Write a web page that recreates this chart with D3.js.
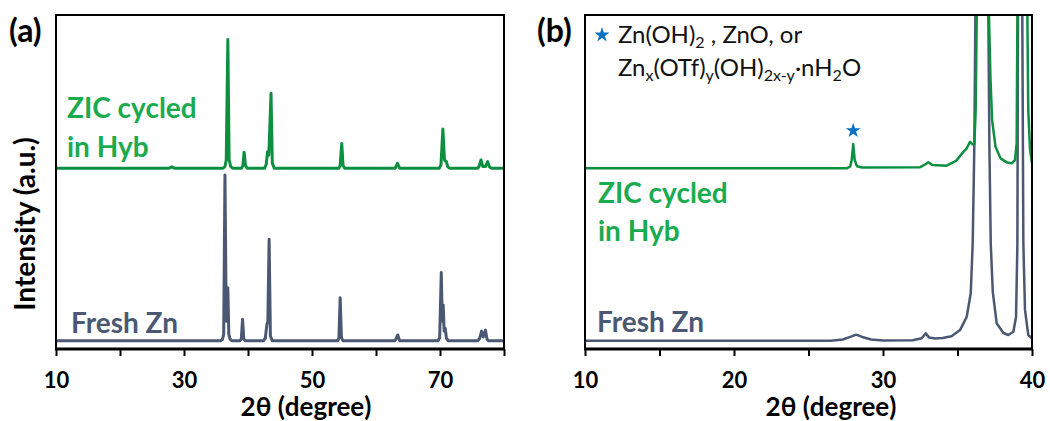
<!DOCTYPE html>
<html>
<head>
<meta charset="utf-8">
<script src="https://cdn.jsdelivr.net/npm/d3@7"></script>
<style>
    body { margin: 0; background: #fff; }
    svg { display: block; font-family: Lato, "Open Sans", sans-serif; }
</style>
</head>
<body>
<svg id="chart" width="1050" height="421"></svg>
<script>
//DATA-----------------------------------------------------------------------------------
//panel (a) : 10-80 degree, [2theta, intensity a.u.]
const freshA = [
    [10, 0], [35.7, 0], [36.0, 4], [36.2, 20], [36.4, 509], [36.6, 60], [36.75, 70], [36.85, 163], [37.0, 20], [37.2, 5], [37.5, 0],
    [38.7, 0], [38.95, 5], [39.15, 66], [39.35, 5], [39.6, 0],
    [42.4, 0], [42.7, 8], [42.95, 50], [43.1, 60], [43.3, 312], [43.5, 15], [43.8, 0],
    [54.0, 0], [54.2, 8], [54.4, 132], [54.5, 70], [54.6, 10], [54.85, 0],
    [62.9, 0], [63.1, 5], [63.4, 18], [63.7, 0],
    [69.7, 0], [69.95, 10], [70.2, 210], [70.35, 60], [70.5, 110], [70.65, 30], [70.83, 38], [71.0, 8], [71.3, 0],
    [75.9, 0], [76.2, 8], [76.5, 30], [76.75, 12], [77.1, 33], [77.35, 5], [77.6, 0], [80, 0]
];
const cycledA = [
    [10, 0], [27.7, 0], [28.1, 4], [28.5, 0],
    [36.1, 0], [36.4, 5], [36.6, 25], [36.85, 395], [37.05, 25], [37.3, 5], [37.6, 0],
    [39.0, 0], [39.2, 8], [39.4, 49], [39.6, 8], [39.85, 0],
    [42.6, 0], [42.85, 12], [43.05, 50], [43.25, 40], [43.6, 230], [43.8, 15], [44.1, 0],
    [54.2, 0], [54.4, 8], [54.65, 76], [54.85, 8], [55.1, 0],
    [63.0, 0], [63.35, 15], [63.7, 0],
    [69.9, 0], [70.15, 10], [70.45, 120], [70.7, 25], [71.0, 20], [71.2, 5], [71.5, 0],
    [75.9, 0], [76.1, 5], [76.4, 25], [76.7, 5], [77.1, 5], [77.45, 20], [77.7, 5], [78.0, 0], [80, 0]
];
const offsetA = 530; //vertical offset of the cycled pattern

//panel (b) : zoom 10-40 degree
const freshB = [
    [10, 0], [26.5, 0], [27.3, 0.4], [27.8, 1.2], [28.2, 1.9], [28.6, 1.2], [29.2, 0.4], [30.0, 0.1],
    [32.0, 0.2], [32.6, 0.8], [32.87, 2.3], [33.1, 1.0], [33.5, 0.7], [34.0, 0.9], [34.6, 1.4],
    [35.17, 3.3], [35.62, 7.4], [35.89, 14.7], [36.02, 30], [36.13, 60], [36.2, 100], [36.6, 400],
    [37.07, 100], [37.14, 60], [37.23, 30], [37.37, 14.9], [37.63, 5.4], [38.08, 2.4], [38.41, 1.8],
    [38.75, 2.8], [38.93, 7.4], [39.02, 30], [39.06, 100], [39.2, 400], [39.35, 100],
    [39.42, 30], [39.53, 9.5], [39.75, 1.8], [40, 0.8]
];
const cycledB = [
    [10, 0], [27.6, 0], [27.8, 0.5], [27.9, 2.5], [28.0, 7.4], [28.1, 2.5], [28.25, 0.6], [28.6, 0.2],
    [32.5, 0.3], [32.85, 1.2], [33.04, 1.8], [33.3, 1.0], [34.27, 0.75], [34.9, 2.2], [35.39, 5.0],
    [35.62, 6.1], [35.84, 8.1], [36.0, 7.3], [36.13, 7.4], [36.22, 17.8], [36.29, 47], [36.7, 150],
    [37.11, 47], [37.21, 28], [37.32, 14.8], [37.55, 6.6], [37.89, 3.0], [38.33, 1.7], [38.64, 1.5],
    [38.86, 2.5], [38.97, 7.6], [39.02, 47], [39.35, 150], [39.69, 47], [39.75, 17.8], [39.87, 5.6], [40, 1.5]
];
const offsetB = 53;
const starAt = [28.0, 11.5]; //marker above the 28 degree peak (cycled, panel b)

//axes
const ticksA = [10, 20, 30, 40, 50, 60, 70, 80];
const labelsA = [10, 30, 50, 70];
const ticksB = [10, 15, 20, 25, 30, 35, 40];
const labelsB = [10, 20, 30, 40];

//colors
const colFresh = "#4b5873";
const colCycled = "#0d8f40";
const colCycledText = "#1aab4f";
const colStar = "#0a70c4";

//LAYOUT---------------------------------------------------------------------------------
const plotTop = 15, plotBottom = 349;
const svg = d3.select("#chart");

function drawPanel(id, left, right, xDomain, yDomain, ticks, labels, fresh, cycled, offset, lineW) {
    const x = d3.scaleLinear().domain(xDomain).range([left, right]);
    const y = d3.scaleLinear().domain(yDomain).range([plotBottom, plotTop]);

    const g = svg.append("g");

    //clip
    svg.append("defs").append("clipPath").attr("id", "clip" + id)
        .append("rect")
        .attr("x", left).attr("y", plotTop)
        .attr("width", right - left).attr("height", plotBottom - plotTop);

    const line = off => d3.line()
        .x(d => x(d[0]))
        .y(d => y(d[1] + off));

    const plot = g.append("g").attr("clip-path", "url(#clip" + id + ")");
    plot.append("path")
        .datum(fresh)
        .attr("d", line(0))
        .attr("fill", "none")
        .attr("stroke", colFresh)
        .attr("stroke-width", lineW)
        .attr("stroke-linejoin", "round");
    plot.append("path")
        .datum(cycled)
        .attr("d", line(offset))
        .attr("fill", "none")
        .attr("stroke", colCycled)
        .attr("stroke-width", lineW)
        .attr("stroke-linejoin", "round");

    //frame
    g.append("path")
        .attr("d", `M${left},${plotBottom}V${plotTop}H${right}V${plotBottom}`)
        .attr("fill", "none")
        .attr("stroke", "#000")
        .attr("stroke-width", 2);

    //x axis
    const axis = g.append("g")
        .attr("transform", `translate(0,${plotBottom})`)
        .call(d3.axisBottom(x)
            .tickValues(ticks)
            .tickSize(7)
            .tickPadding(16)
            .tickFormat(d => labels.includes(d) ? d : ""));
    axis.select(".domain").remove();
    axis.selectAll(".tick line").attr("stroke", "#000").attr("stroke-width", 2);
    axis.selectAll(".tick text")
        .attr("fill", "#000")
        .style("font-family", "Lato, sans-serif")
        .style("font-weight", "bold")
        .style("font-size", "22px");
    g.append("line")
        .attr("x1", left - 1).attr("x2", right + 1)
        .attr("y1", plotBottom).attr("y2", plotBottom)
        .attr("stroke", "#000")
        .attr("stroke-width", 3);

    return { x, y, g };
}

const pa = drawPanel("A", 56, 504, [10, 80], [-25, 1000], ticksA, labelsA, freshA, cycledA, offsetA, 3);
const pb = drawPanel("B", 585, 1032, [10, 40], [-2.5, 100], ticksB, labelsB, freshB, cycledB, offsetB, 2.5);

//TEXT-----------------------------------------------------------------------------------
function label(x, y, txt, size, color, weight, anchor) {
    return svg.append("text")
        .attr("x", x).attr("y", y)
        .attr("fill", color)
        .attr("font-size", size)
        .attr("font-weight", weight || "bold")
        .attr("text-anchor", anchor || "start")
        .text(txt);
}

label(9, 42, "(a)", 32, "#000");
label(537, 42, "(b)", 32, "#000");

//axis titles
label(306, 416, "2θ (degree)", 26, "#000", "bold", "middle");
label(831, 416, "2θ (degree)", 26, "#000", "bold", "middle");
svg.append("text")
    .attr("transform", "translate(35,224) rotate(-90)")
    .attr("text-anchor", "middle")
    .attr("font-size", 28)
    .attr("font-weight", "bold")
    .attr("fill", "#000")
    .text("Intensity (a.u.)");

//series labels
label(67, 118, "ZIC cycled", 28, colCycledText);
label(67, 157, "in Hyb", 28, colCycledText);
label(71, 333, "Fresh Zn", 28, colFresh);
label(598, 203, "ZIC cycled", 28, colCycledText);
label(598, 241, "in Hyb", 28, colCycledText);
label(597, 332, "Fresh Zn", 28, colFresh);

//star markers
const star = d3.symbol().type(d3.symbolStar).size(70);
svg.append("path")
    .attr("d", star())
    .attr("transform", "translate(602,35)")
    .attr("fill", colStar);
svg.append("path")
    .attr("d", star())
    .attr("transform", `translate(${pb.x(starAt[0])},${pb.y(starAt[1] + offsetB)})`)
    .attr("fill", colStar);

//legend formulas with subscripts
const leg1 = svg.append("text").attr("x", 618).attr("y", 43).attr("font-size", 24).attr("fill", "#111");
leg1.append("tspan").text("Zn(OH)");
leg1.append("tspan").attr("font-size", 16).attr("dy", 5).text("2");
leg1.append("tspan").attr("dy", -5).text(" , ZnO, or");

const leg2 = svg.append("text").attr("x", 618).attr("y", 76).attr("font-size", 24).attr("fill", "#111");
leg2.append("tspan").text("Zn");
leg2.append("tspan").attr("font-size", 16).attr("dy", 5).text("x");
leg2.append("tspan").attr("dy", -5).text("(OTf)");
leg2.append("tspan").attr("font-size", 16).attr("dy", 5).text("y");
leg2.append("tspan").attr("dy", -5).text("(OH)");
leg2.append("tspan").attr("font-size", 16).attr("dy", 5).text("2x-y");
leg2.append("tspan").attr("dy", -5).text("·nH");
leg2.append("tspan").attr("font-size", 16).attr("dy", 5).text("2");
leg2.append("tspan").attr("dy", -5).text("O");
</script>
</body>
</html>
